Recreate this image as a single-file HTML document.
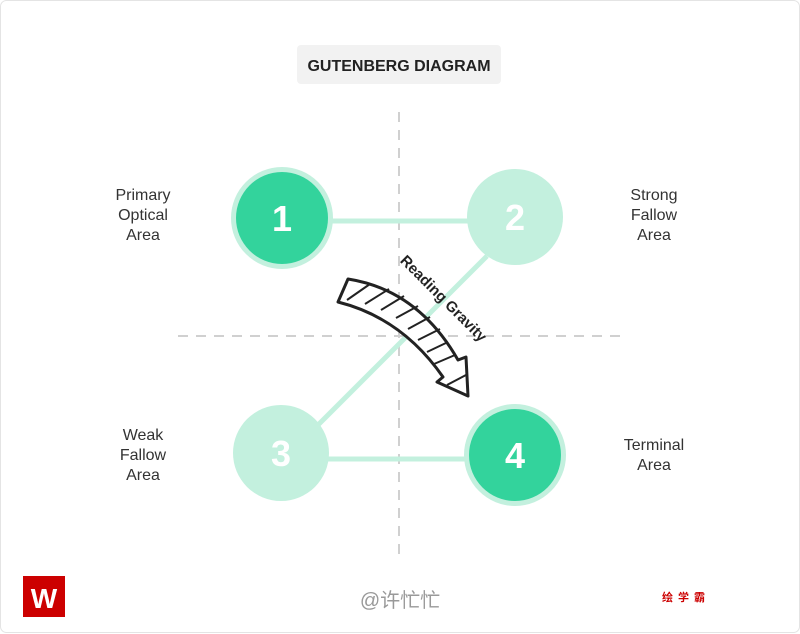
<!DOCTYPE html>
<html><head><style>
html,body{margin:0;padding:0;background:#fff;}
body{width:800px;height:634px;overflow:hidden;position:relative;font-family:"Liberation Sans","Noto Sans CJK SC",sans-serif;}
</style></head><body>
<svg width="800" height="634" viewBox="0 0 800 634" xmlns="http://www.w3.org/2000/svg" style="position:absolute;left:0;top:0">
<rect x="0.5" y="0.5" width="799" height="632" rx="6" fill="#fff" stroke="#e4e4e4"/>
<rect x="297" y="45" width="204" height="39" rx="4" fill="#f2f2f2"/>
<text x="399" y="71" text-anchor="middle" font-size="16" font-weight="bold" fill="#222" font-family="Liberation Sans, sans-serif">GUTENBERG DIAGRAM</text>
<g stroke="#d0d0d0" stroke-width="2" stroke-dasharray="10,8">
<line x1="399" y1="112" x2="399" y2="560"/>
<line x1="178" y1="336" x2="622" y2="336"/>
</g>
<g stroke="#c3f0de" stroke-width="5">
<line x1="328" y1="221" x2="470" y2="221"/>
<line x1="487" y1="256" x2="316" y2="427"/>
<line x1="326" y1="459" x2="470" y2="459"/>
</g>
<circle cx="282" cy="218" r="51" fill="#c3f0de"/>
<circle cx="282" cy="218" r="46" fill="#33d39c"/>
<circle cx="515" cy="217" r="48" fill="#c3f0de"/>
<circle cx="281" cy="453" r="48" fill="#c3f0de"/>
<circle cx="515" cy="455" r="51" fill="#c3f0de"/>
<circle cx="515" cy="455" r="46" fill="#33d39c"/>
<g fill="#fff" font-size="36" font-weight="bold" text-anchor="middle" font-family="Liberation Sans, sans-serif">
<text x="282" y="231">1</text><text x="515" y="230">2</text><text x="281" y="466">3</text><text x="515" y="468">4</text>
</g>
<g font-size="16" fill="#333" text-anchor="middle" font-family="Liberation Sans, sans-serif">
<text x="143" y="200">Primary</text><text x="143" y="220">Optical</text><text x="143" y="240">Area</text>
<text x="654" y="200">Strong</text><text x="654" y="220">Fallow</text><text x="654" y="240">Area</text>
<text x="143" y="440">Weak</text><text x="143" y="460">Fallow</text><text x="143" y="480">Area</text>
<text x="654" y="450">Terminal</text><text x="654" y="470">Area</text>
</g>
<g fill="#fff" stroke="#222" stroke-width="3" stroke-linejoin="round">
<path d="M348,279 Q418,290 458,360 L466,357 L468,396 L437,382 L443,377 Q402,318 338,302 Z"/>
</g>
<g stroke="#222" stroke-width="2">
<line x1="347" y1="300" x2="370" y2="284"/>
<line x1="365" y1="304" x2="389" y2="289"/>
<line x1="381" y1="310" x2="404" y2="296"/>
<line x1="396" y1="318" x2="418" y2="306"/>
<line x1="408" y1="329" x2="430" y2="317"/>
<line x1="418" y1="340" x2="440" y2="329"/>
<line x1="427" y1="352" x2="448" y2="342"/>
<line x1="434" y1="364" x2="455" y2="355"/>
<line x1="447" y1="385" x2="466" y2="375"/>
</g>
<text x="0" y="0" transform="translate(440,302) rotate(45)" text-anchor="middle" font-size="15" font-weight="bold" fill="#222" font-family="Liberation Sans, sans-serif">Reading Gravity</text>
<rect x="23" y="576" width="42" height="41" fill="#c00"/>
<text x="44" y="608" text-anchor="middle" font-size="28" font-weight="bold" fill="#fff" font-family="Liberation Sans, sans-serif">W</text>
<text x="400" y="607" text-anchor="middle" font-size="20" fill="#999" font-family="Liberation Sans, Noto Sans CJK SC, sans-serif">@许忙忙</text>
<text x="686" y="601" text-anchor="middle" font-size="11" font-weight="bold" fill="#c00" letter-spacing="5" font-family="Noto Sans CJK SC, sans-serif">绘学霸</text>
</svg>
</body></html>
